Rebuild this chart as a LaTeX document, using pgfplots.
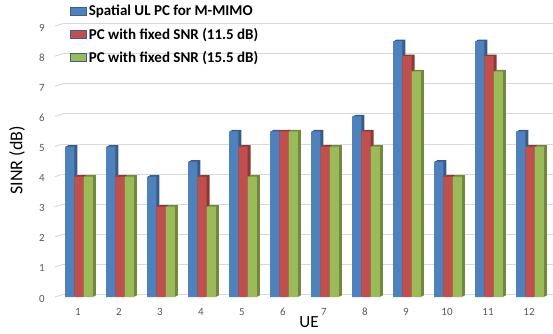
\documentclass[border=0pt]{standalone}
\usepackage{fontspec}
\setmainfont{Carlito}
\usepackage{pgfplots}
\usepackage{pgfplotstable}
\pgfplotsset{compat=1.18}

\definecolor{barblue}{HTML}{4F81BD}
\definecolor{bluedark}{HTML}{385D8A}
\definecolor{barred}{HTML}{C0504D}
\definecolor{reddark}{HTML}{8C3836}
\definecolor{bargreen}{HTML}{9BBB59}
\definecolor{greendark}{HTML}{71893F}
\definecolor{gridgray}{HTML}{D9D9D9}
\definecolor{ticktext}{HTML}{595959}
\definecolor{keyborder}{HTML}{3B5E8C}

% SINR per UE for the three power-control schemes
\pgfplotstableread{
ue spatial snrA snrB
1  5   4   4
2  5   4   4
3  4   3   3
4  4.5 4   3
5  5.5 5   4
6  5.5 5.5 5.5
7  5.5 5   5
8  6   5.5 5
9  8.5 8   7.5
10 4.5 4   4
11 8.5 8   7.5
12 5.5 5   5
}\sinrdata

\begin{document}
\begin{tikzpicture}
\begin{axis}[
  at={(0,0)}, anchor=south west,
  scale only axis, width=490pt, height=270.9pt,
  xmin=0.6098, xmax=12.56, ymin=0, ymax=9,
  clip=false,
  ybar, bar width=9.3pt,
  axis line style={draw=none},
  major tick length=0pt,
  xtick={1,...,12}, ytick={0,...,9},
  ymajorgrids,
  major grid style={draw=gridgray, line width=0.9pt, yshift=2.5pt},
  /pgf/number format/assume math mode=true,
  ticklabel style={font=\fontsize{11}{13}\selectfont, text=ticktext},
  yticklabel style={anchor=center, xshift=-21pt, yshift=-1.5pt},
  xticklabel style={anchor=center, yshift=-15pt, xshift=-1pt},
  xlabel={UE}, ylabel={SINR (dB)},
  label style={font=\fontsize{18}{20}\selectfont},
  xlabel style={at={(axis description cs:0.502,-0.093)}, anchor=center, inner sep=0pt,
    font=\fontsize{17}{19}\selectfont},
  ylabel style={at={(axis description cs:-0.0939,0.504)}, anchor=center},
  legend style={at={(axis description cs:0.008,1.092)}, anchor=north west,
    draw=none, fill=none, font=\bfseries\fontsize{15}{17}\selectfont,
    row sep=6.5pt, legend cell align=left},
]
% blue series: side faces, then front
\addplot[fill=bluedark, draw=none, bar shift=-8.3pt, yshift=0.5pt, forget plot] table[x=ue, y=spatial] {\sinrdata};
\addplot[fill=bluedark, draw=none, bar shift=-7.3pt, yshift=1pt, forget plot] table[x=ue, y=spatial] {\sinrdata};
\addplot[fill=bluedark, draw=none, bar shift=-6.3pt, yshift=1.5pt, forget plot] table[x=ue, y=spatial] {\sinrdata};
\addplot[fill=barblue, draw=none, bar shift=-9.3pt,
  legend image code/.code={\filldraw[fill=barblue, draw=keyborder, line width=0.7pt] (0pt,-4pt) rectangle (16pt,4pt);}]
  table[x=ue, y=spatial] {\sinrdata};
\addlegendentry{Spatial UL PC for M-MIMO}
% red series
\addplot[fill=reddark, draw=none, bar shift=1pt, yshift=0.5pt, forget plot] table[x=ue, y=snrA] {\sinrdata};
\addplot[fill=reddark, draw=none, bar shift=2pt, yshift=1pt, forget plot] table[x=ue, y=snrA] {\sinrdata};
\addplot[fill=reddark, draw=none, bar shift=3pt, yshift=1.5pt, forget plot] table[x=ue, y=snrA] {\sinrdata};
\addplot[fill=barred, draw=none, bar shift=0pt,
  legend image code/.code={\filldraw[fill=barred, draw=keyborder, line width=0.7pt] (0pt,-4pt) rectangle (16pt,4pt);}]
  table[x=ue, y=snrA] {\sinrdata};
\addlegendentry{PC with fixed SNR (11.5 dB)}
% green series
\addplot[fill=greendark, draw=none, bar shift=10.3pt, yshift=0.5pt, forget plot] table[x=ue, y=snrB] {\sinrdata};
\addplot[fill=greendark, draw=none, bar shift=11.3pt, yshift=1pt, forget plot] table[x=ue, y=snrB] {\sinrdata};
\addplot[fill=greendark, draw=none, bar shift=12.3pt, yshift=1.5pt, forget plot] table[x=ue, y=snrB] {\sinrdata};
\addplot[fill=bargreen, draw=none, bar shift=9.3pt,
  legend image code/.code={\filldraw[fill=bargreen, draw=keyborder, line width=0.7pt] (0pt,-4pt) rectangle (16pt,4pt);}]
  table[x=ue, y=snrB] {\sinrdata};
\addlegendentry{PC with fixed SNR (15.5 dB)}
% floor edge of the back wall at each gridline
\pgfplotsinvokeforeach{0,...,9}{
  \draw[gridgray, line width=0.9pt] ([xshift=-8pt]axis cs:0.6098,#1) -- ([yshift=2.5pt]axis cs:0.6098,#1);
}
\end{axis}
\pgfresetboundingbox
\path[use as bounding box] (-63pt,-36pt) rectangle (490pt,297pt);
\end{tikzpicture}
\end{document}
